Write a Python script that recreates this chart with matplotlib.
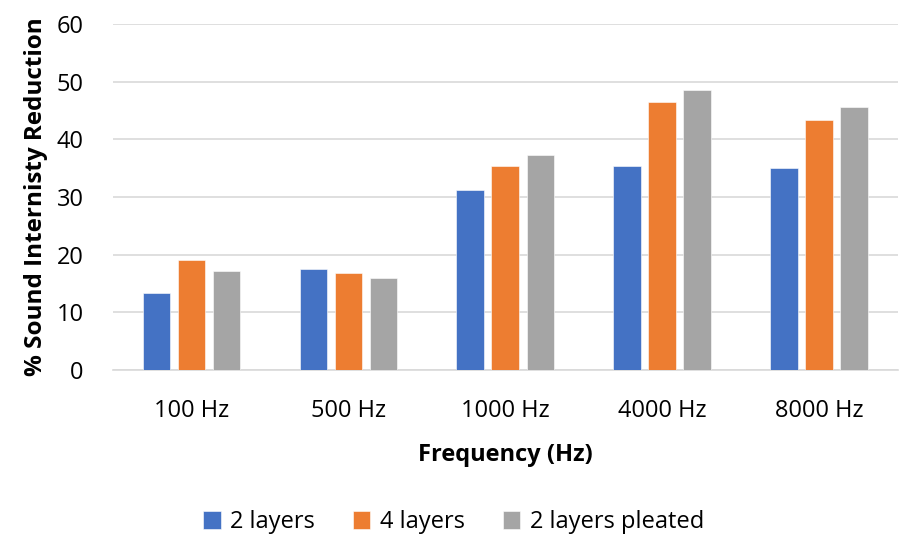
import numpy as np
import matplotlib.pyplot as plt

plt.rcParams['font.family'] = ['Open Sans', 'DejaVu Sans']

# data
categories = ['100 Hz', '500 Hz', '1000 Hz', '4000 Hz', '8000 Hz']
series_names = ['2 layers', '4 layers', '2 layers pleated']
two_layers = [13.4, 17.6, 31.3, 35.3, 35.1]
four_layers = [19.0, 16.8, 35.3, 46.5, 43.3]
two_layers_pleated = [17.2, 15.9, 37.3, 48.6, 45.7]
colors = ['#4472C4', '#ED7D31', '#A5A5A5']

fs = 17

fig = plt.figure(figsize=(9.07, 5.34), dpi=100)
ax = fig.add_axes([0.1246, 0.307, 0.8654, 0.648])

x = np.arange(len(categories))
width = 0.178
step = 0.223
for i, (vals, name) in enumerate(zip([two_layers, four_layers, two_layers_pleated], series_names)):
    ax.bar(x + (i - 1) * step, vals, width, color=colors[i], label=name,
           edgecolor='white', linewidth=0.4, zorder=3)

ax.set_xlim(-0.5, len(categories) - 0.5)
ax.set_ylim(0, 60)
ax.set_yticks(range(0, 61, 10))
ax.set_xticks(x)
ax.set_xticklabels(categories)
ax.tick_params(axis='both', length=0, labelsize=fs, colors='#000000')
ax.tick_params(axis='x', pad=21)
ax.tick_params(axis='y', pad=21)
ax.grid(axis='y', color='#d9d9d9', linewidth=1.2, zorder=0)
for s in ['top', 'right', 'left']:
    ax.spines[s].set_visible(False)
ax.spines['bottom'].set_color('#d9d9d9')
ax.spines['bottom'].set_linewidth(1.2)

ax.set_xlabel('Frequency (Hz)', fontsize=fs, fontweight='bold', labelpad=14)
ax.set_ylabel('% Sound Internisty Reduction', fontsize=17.5, fontweight='bold', labelpad=6)

fig.legend(loc='lower center', bbox_to_anchor=(0.5, -0.04), ncol=3, frameon=False,
           fontsize=fs, handlelength=0.75, handleheight=0.75, handletextpad=0.4,
           columnspacing=1.6)

fig.savefig('out.png', dpi=100)
